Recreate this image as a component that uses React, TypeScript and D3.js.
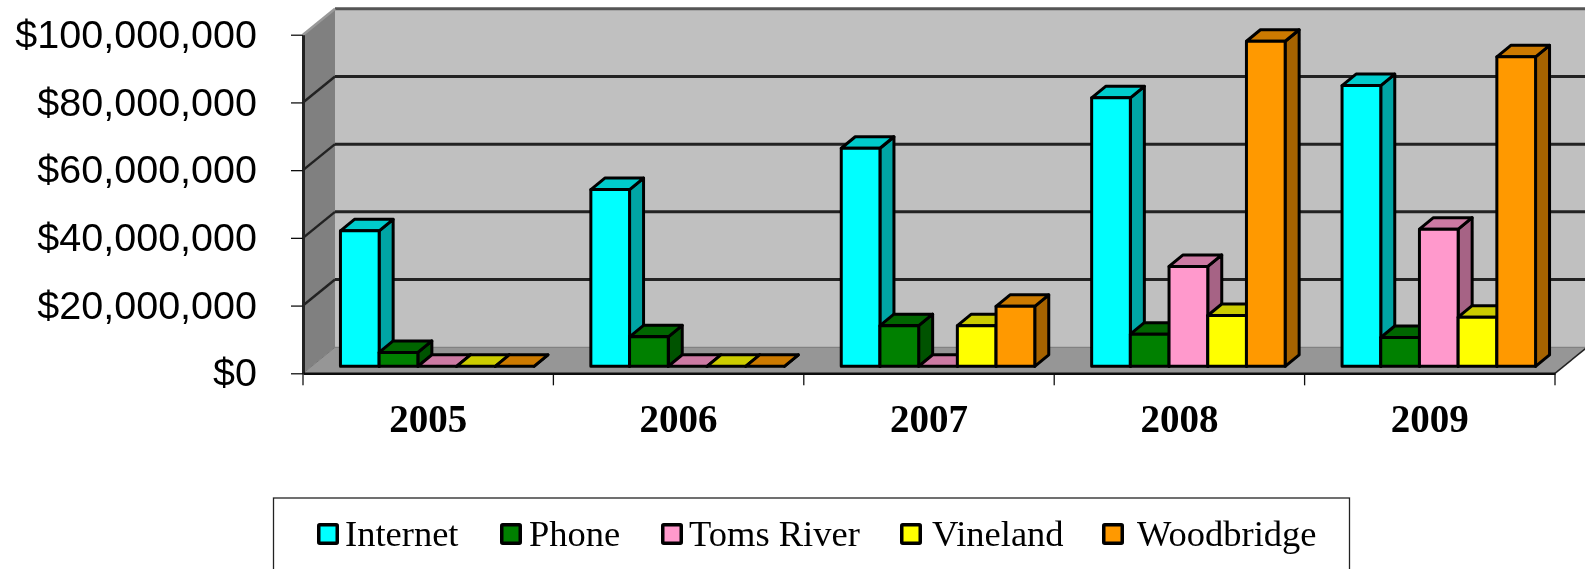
import React, { useEffect, useRef } from "react";
import * as d3 from "d3";

const years = ["2005", "2006", "2007", "2008", "2009"];
const seriesNames = ["Internet", "Phone", "Toms River", "Vineland", "Woodbridge"];

// values in dollars
const internet = [40000000, 52200000, 64400000, 79300000, 82900000];
const phone = [4100000, 8700000, 12000000, 9500000, 8500000];
const tomsRiver = [0, 0, 0, 29500000, 40500000];
const vineland = [0, 0, 12000000, 15000000, 14500000];
const woodbridge = [0, 0, 17700000, 96000000, 91400000];
const seriesValues = [internet, phone, tomsRiver, vineland, woodbridge];

const yTicks = [0, 20000000, 40000000, 60000000, 80000000, 100000000];

const frontColors = ["#00ffff", "#008000", "#ff99cc", "#ffff00", "#ff9900"];
const topColors = ["#00cccc", "#006600", "#cc7aa3", "#cccc00", "#cc7a00"];
const sideColors = ["#00a5a5", "#005300", "#a66385", "#a6a600", "#a66300"];

const legendX = [317, 500, 661, 900, 1102];
const legendTextX = [345, 529, 689, 932, 1137];

export default function App() {
    const ref = useRef<SVGSVGElement>(null);

    useEffect(() => {
        const svg = d3.select(ref.current);
        svg.selectAll("*").remove();

        // layout of the fake 3d box
        const left = 303;
        const right = 1555;
        const top = 34.7;
        const bottom = 373.3;
        const wallDx = 32;
        const wallDy = 26;
        const barDx = 14;
        const barDy = 11.5;
        const offsetX = 9;
        const offsetY = 7;

        const x = d3.scaleBand().domain(years).range([left, right]);
        const y = d3.scaleLinear().domain([0, 100000000]).range([bottom, top]);
        const inner = d3.scaleBand<number>()
            .domain(seriesNames.map((_, i) => i))
            .range([0, 193.5]);

        svg.append("defs").append("filter")
            .attr("id", "soft")
            .append("feGaussianBlur")
            .attr("stdDeviation", 0.7);

        const plot = svg.append("g").attr("filter", "url(#soft)");
        const pts = (p: number[][]) => p.map(d => d.join(",")).join(" ");

        // back wall
        plot.append("polygon")
            .attr("points", pts([[left + wallDx, y(100000000) - wallDy], [right + wallDx, y(100000000) - wallDy], [right + wallDx, bottom - wallDy], [left + wallDx, bottom - wallDy]]))
            .attr("fill", "#c0c0c0");
        // side wall
        plot.append("polygon")
            .attr("points", pts([[left, top], [left + wallDx, top - wallDy], [left + wallDx, bottom - wallDy], [left, bottom]]))
            .attr("fill", "#808080");
        // floor
        plot.append("polygon")
            .attr("points", pts([[left, bottom], [left + wallDx, bottom - wallDy], [right + wallDx, bottom - wallDy], [right, bottom]]))
            .attr("fill", "#969696");

        // grid lines, back and side
        yTicks.forEach(t => {
            const color = t === 0 ? "#777" : "#222";
            plot.append("line")
                .attr("x1", left + wallDx).attr("x2", right + wallDx)
                .attr("y1", y(t) - wallDy).attr("y2", y(t) - wallDy)
                .attr("stroke", t === 100000000 ? "#555" : color)
                .attr("stroke-width", t === 0 ? 1 : 3);
            plot.append("line")
                .attr("x1", left).attr("x2", left + wallDx)
                .attr("y1", y(t)).attr("y2", y(t) - wallDy)
                .attr("stroke", t === 100000000 ? "#999" : color)
                .attr("stroke-width", t === 0 ? 1 : 2.5);
        });
        plot.append("line")
            .attr("x1", right).attr("x2", right + wallDx)
            .attr("y1", bottom).attr("y2", bottom - wallDy)
            .attr("stroke", "#222").attr("stroke-width", 1.5);

        // bars, left to right so the later ones sit on top
        const group = (x.bandwidth() - inner.range()[1]) / 2 + offsetX;
        years.forEach((year, c) => {
            seriesValues.forEach((values, s) => {
                const v = values[c];
                const x0 = (x(year) as number) + group + (inner(s) as number);
                const x1 = x0 + inner.bandwidth();
                const y1 = y(0) - offsetY;
                const y0 = y(v) - offsetY;
                const g = plot.append("g")
                    .attr("stroke", "#000")
                    .attr("stroke-width", 3)
                    .attr("stroke-linejoin", "round");
                g.append("polygon")
                    .attr("points", pts([[x1, y0], [x1 + barDx, y0 - barDy], [x1 + barDx, y1 - barDy], [x1, y1]]))
                    .attr("fill", sideColors[s]);
                g.append("polygon")
                    .attr("points", pts([[x0, y0], [x0 + barDx, y0 - barDy], [x1 + barDx, y0 - barDy], [x1, y0]]))
                    .attr("fill", topColors[s]);
                g.append("rect")
                    .attr("x", x0).attr("y", y0)
                    .attr("width", x1 - x0).attr("height", y1 - y0)
                    .attr("fill", frontColors[s]);
            });
        });

        // y axis
        const yAxis = plot.append("g")
            .attr("transform", `translate(${left},0)`)
            .call(d3.axisLeft(y).tickValues(yTicks).tickFormat(d3.format("$,.0f") as any).tickSize(12).tickSizeOuter(0).tickPadding(34));
        yAxis.select(".domain").attr("stroke", "#222").attr("stroke-width", 3);
        yAxis.selectAll("line").attr("stroke", "#111").attr("stroke-width", 1.3);
        yAxis.selectAll("text")
            .attr("font-family", "'Liberation Sans'")
            .attr("font-size", 39.5)
            .attr("fill", "#000");

        // x axis
        const xAxis = plot.append("g")
            .attr("transform", `translate(0,${bottom})`)
            .call(d3.axisBottom(x).tickSize(0).tickPadding(31));
        xAxis.select(".domain").attr("stroke", "#111").attr("stroke-width", 2.5);
        xAxis.selectAll("text")
            .attr("font-family", "'Liberation Serif'")
            .attr("font-weight", "bold")
            .attr("font-size", 39)
            .attr("fill", "#000");
        [...years.map(d => x(d) as number), right].forEach(d => {
            xAxis.append("line")
                .attr("x1", d).attr("x2", d)
                .attr("y1", 0).attr("y2", 12)
                .attr("stroke", "#111").attr("stroke-width", 1.3);
        });

        // legend, its bottom edge runs off the picture
        const legend = plot.append("g");
        legend.append("rect")
            .attr("x", 273.5).attr("y", 498)
            .attr("width", 1076).attr("height", 90)
            .attr("fill", "#fff")
            .attr("stroke", "#222").attr("stroke-width", 1.3);
        seriesNames.forEach((name, i) => {
            legend.append("rect")
                .attr("x", legendX[i] + 1.75).attr("y", 524.75)
                .attr("width", 18.5).attr("height", 18.5)
                .attr("rx", 1)
                .attr("fill", frontColors[i])
                .attr("stroke", "#000").attr("stroke-width", 3.5);
            legend.append("text")
                .attr("x", legendTextX[i]).attr("y", 546)
                .attr("font-family", "'Liberation Serif'")
                .attr("font-size", 36.5)
                .attr("fill", "#000")
                .text(name);
        });
    }, []);

    return (
        <svg
            ref={ref}
            width={1585}
            height={569}
            style={{ position: "absolute", left: 0, top: 0, background: "#fff", display: "block" }}
        />
    );
}
